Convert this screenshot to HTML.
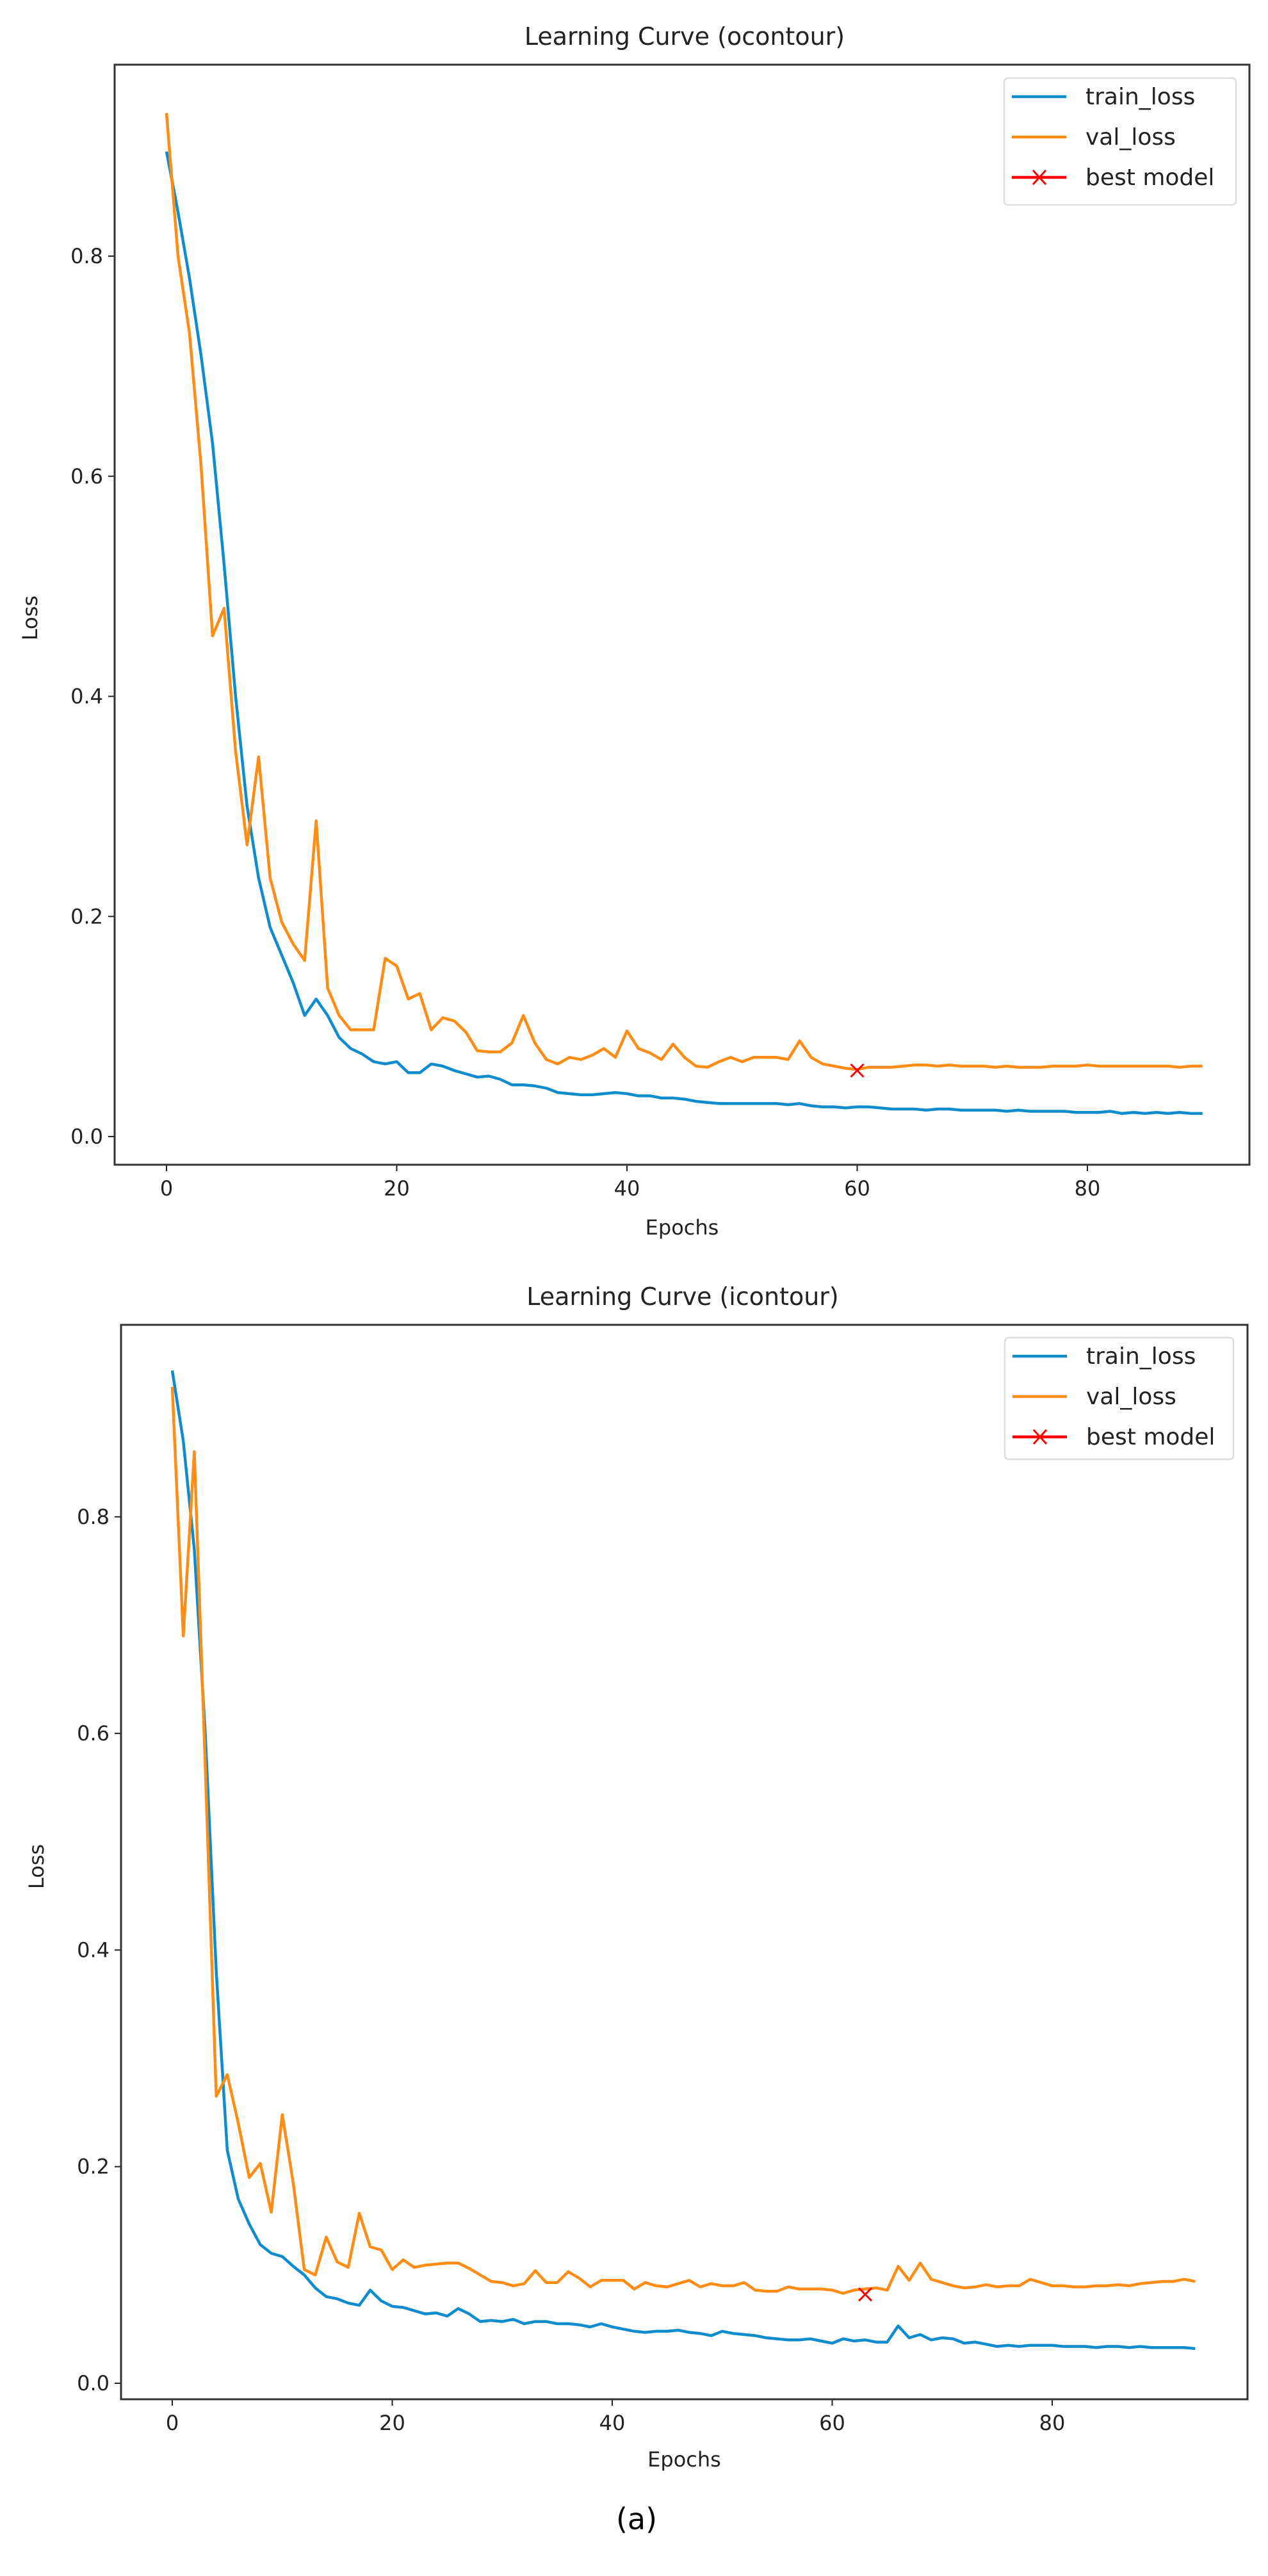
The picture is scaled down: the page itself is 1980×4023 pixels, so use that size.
<!DOCTYPE html>
<html><head><meta charset="utf-8"><style>
body{margin:0;background:#fff;}
svg{display:block;font-family:"DejaVu Sans","Liberation Sans",sans-serif;}
</style></head><body>
<svg id="root" width="1980" height="4023" viewBox="0 0 1980 4023" xmlns="http://www.w3.org/2000/svg"></svg>
<script>
const epochs1Train=[0.895,0.84,0.78,0.71,0.63,0.52,0.40,0.30,0.235,0.19,0.165,0.14,0.11,0.125,0.11,0.09,0.08,0.075,0.068,0.066,0.068,0.058,0.058,0.066,0.064,0.06,0.057,0.054,0.055,0.052,0.047,0.047,0.046,0.044,0.04,0.039,0.038,0.038,0.039,0.04,0.039,0.037,0.037,0.035,0.035,0.034,0.032,0.031,0.030,0.030,0.030,0.030,0.030,0.030,0.029,0.030,0.028,0.027,0.027,0.026,0.027,0.027,0.026,0.025,0.025,0.025,0.024,0.025,0.025,0.024,0.024,0.024,0.024,0.023,0.024,0.023,0.023,0.023,0.023,0.022,0.022,0.022,0.023,0.021,0.022,0.021,0.022,0.021,0.022,0.021,0.021];
const epochs1Val=[0.93,0.80,0.73,0.61,0.455,0.48,0.35,0.265,0.345,0.235,0.195,0.175,0.16,0.287,0.135,0.11,0.097,0.097,0.097,0.162,0.155,0.125,0.13,0.097,0.108,0.105,0.095,0.078,0.077,0.077,0.085,0.11,0.085,0.07,0.066,0.072,0.07,0.074,0.08,0.072,0.096,0.08,0.076,0.07,0.084,0.072,0.064,0.063,0.068,0.072,0.068,0.072,0.072,0.072,0.07,0.087,0.072,0.066,0.064,0.062,0.061,0.063,0.063,0.063,0.064,0.065,0.065,0.064,0.065,0.064,0.064,0.064,0.063,0.064,0.063,0.063,0.063,0.064,0.064,0.064,0.065,0.064,0.064,0.064,0.064,0.064,0.064,0.064,0.063,0.064,0.064];
const best1=[60,0.06];
const epochs2Train=[0.935,0.87,0.77,0.60,0.38,0.215,0.17,0.147,0.128,0.12,0.117,0.108,0.1,0.088,0.08,0.078,0.074,0.072,0.086,0.076,0.071,0.07,0.067,0.064,0.065,0.062,0.069,0.064,0.057,0.058,0.057,0.059,0.055,0.057,0.057,0.055,0.055,0.054,0.052,0.055,0.052,0.05,0.048,0.047,0.048,0.048,0.049,0.047,0.046,0.044,0.048,0.046,0.045,0.044,0.042,0.041,0.04,0.04,0.041,0.039,0.037,0.041,0.039,0.04,0.038,0.038,0.053,0.042,0.045,0.04,0.042,0.041,0.037,0.038,0.036,0.034,0.035,0.034,0.035,0.035,0.035,0.034,0.034,0.034,0.033,0.034,0.034,0.033,0.034,0.033,0.033,0.033,0.033,0.032];
const epochs2Val=[0.92,0.69,0.86,0.57,0.265,0.285,0.24,0.19,0.203,0.158,0.248,0.185,0.105,0.1,0.135,0.112,0.107,0.157,0.126,0.123,0.105,0.114,0.107,0.109,0.11,0.111,0.111,0.106,0.1,0.094,0.093,0.09,0.092,0.104,0.093,0.093,0.103,0.097,0.089,0.095,0.095,0.095,0.087,0.093,0.09,0.089,0.092,0.095,0.089,0.092,0.09,0.09,0.093,0.086,0.085,0.085,0.089,0.087,0.087,0.087,0.086,0.083,0.086,0.087,0.088,0.086,0.108,0.095,0.111,0.096,0.093,0.09,0.088,0.089,0.091,0.089,0.09,0.09,0.096,0.093,0.09,0.09,0.089,0.089,0.09,0.09,0.091,0.09,0.092,0.093,0.094,0.094,0.096,0.094];
const best2=[63,0.082];
const xTicks=[0,20,40,60,80];
const yTicks=[0.0,0.2,0.4,0.6,0.8];
const yTickLabels=["0.0","0.2","0.4","0.6","0.8"];

const NS="http://www.w3.org/2000/svg";
const root=document.getElementById('root');
function mk(tag,attrs,parent){const e=document.createElementNS(NS,tag);for(const k in attrs)e.setAttribute(k,attrs[k]);(parent||root).appendChild(e);return e;}

function chart(o){
  const g=mk('g',{});
  
  
  const xs=v=>o.x0+(v*o.xStep/20);
  const ys=v=>o.y0-(v*o.yStep/0.2);
  const t=mk('text',{x:o.titleX,y:o.titleY,'font-size':38,'text-anchor':'middle',fill:'#222'},g);
  t.textContent=o.title;
  
  
  xTicks.forEach(v=>{
    mk('line',{x1:xs(v),x2:xs(v),y1:o.bottom,y2:o.bottom+10,stroke:'#222','stroke-width':2},g);
    const l=mk('text',{x:xs(v),y:o.bottom+48,'font-size':32,'text-anchor':'middle',fill:'#222'},g);
    l.textContent=v;
    
    
  });
  yTicks.forEach((v,i)=>{
    mk('line',{x1:o.left-10,x2:o.left,y1:ys(v),y2:ys(v),stroke:'#222','stroke-width':2},g);
    const l=mk('text',{x:o.left-18,y:ys(v)+11,'font-size':32,'text-anchor':'end',fill:'#222'},g);
    l.textContent=yTickLabels[i];
    
    
  });
  const xl=mk('text',{x:(o.left+o.right)/2,y:o.xlabY,'font-size':32,'text-anchor':'middle',fill:'#222'},g);
  xl.textContent='Epochs';
  
  
  const yl=mk('text',{x:0,y:0,'font-size':32,'text-anchor':'middle',fill:'#222',transform:`translate(${o.ylabX},${o.ylabY}) rotate(-90)`},g);
  yl.textContent='Loss';
  
  
  function line(arr,color,name){
    const p=mk('polyline',{points:arr.map((v,i)=>xs(i).toFixed(1)+','+ys(v).toFixed(1)).join(' '),fill:'none',stroke:color,'stroke-width':4.5,'stroke-linejoin':'round'},g);
    
    
  }
  line(o.train,'#0e8ccd','train-loss-line');
  line(o.val,'#ff8c14','val-loss-line');
  const bx=xs(o.best[0]),by=ys(o.best[1]);
  const m=mk('path',{d:`M${bx-10},${by-10}L${bx+10},${by+10}M${bx-10},${by+10}L${bx+10},${by-10}`,stroke:'#ff0000','stroke-width':3},g);
  
  
  const ax=mk('rect',{x:o.left,y:o.top,width:o.right-o.left,height:o.bottom-o.top,fill:'none',stroke:'#333','stroke-width':3},g);
  
  
  const lg=mk('g',{},g);
  
  
  mk('rect',{x:o.lx,y:o.ly,width:o.lw,height:o.lh,rx:6,fill:'#fff',stroke:'#ddd','stroke-width':2.5},lg);
  const ents=[['train_loss','#0e8ccd',false],['val_loss','#ff8c14',false],['best model','#ff0000',true]];
  ents.forEach((e,i)=>{
    const yy=o.ly+29+i*63;
    mk('line',{x1:o.lx+12,x2:o.lx+97,y1:yy,y2:yy,stroke:e[1],'stroke-width':4.5},lg);
    if(e[2])mk('path',{d:`M${o.lx+45},${yy-11}L${o.lx+65},${yy+11}M${o.lx+45},${yy+11}L${o.lx+65},${yy-11}`,stroke:'#ff0000','stroke-width':3},lg);
    const tx=mk('text',{x:o.lx+127,y:yy+12,'font-size':36,fill:'#222'},lg);
    tx.textContent=e[0];
    
    
  });
}
chart({name:'chart-ocontour',title:'Learning Curve (ocontour)',titleX:1069,titleY:70,left:179,right:1951,top:101,bottom:1819,
  x0:260,xStep:359.5,y0:1775,yStep:343.75,train:epochs1Train,val:epochs1Val,best:best1,xlabY:1928,ylabX:58,ylabY:965,
  lx:1568,ly:122,lw:362,lh:198});
chart({name:'chart-icontour',title:'Learning Curve (icontour)',titleX:1066,titleY:2038,left:189,right:1948,top:2069,bottom:3747,
  x0:269,xStep:343.5,y0:3722,yStep:338.3,train:epochs2Train,val:epochs2Val,best:best2,xlabY:3852,ylabX:68,ylabY:2915,
  lx:1569,ly:2089,lw:357,lh:190});
const cap=mk('text',{x:994,y:3950,'font-size':46,'text-anchor':'middle',fill:'#000'});
cap.textContent='(a)';


</script>
</body></html>
